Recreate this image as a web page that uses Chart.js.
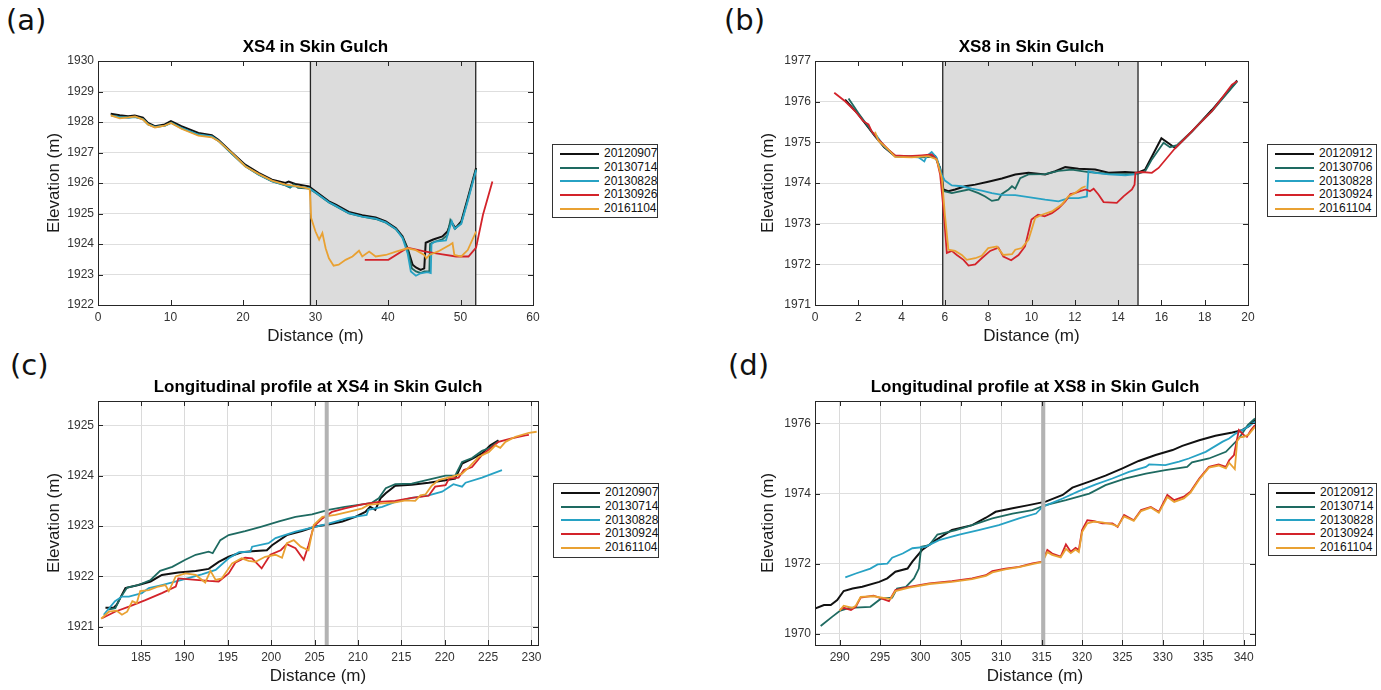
<!DOCTYPE html>
<html>
<head>
<meta charset="utf-8">
<script src="https://cdn.jsdelivr.net/npm/chart.js@4.4.1/dist/chart.umd.min.js"></script>
<style>
body { margin: 0; background: #fff; width: 1381px; height: 690px; overflow: hidden; position: relative; font-family: 'Liberation Sans', Arial, sans-serif; }
canvas { position: absolute; }
.tag { position: absolute; font-family: 'DejaVu Sans', sans-serif; font-size: 29px; line-height: 29px; color: #111; }
.legend { position: absolute; border: 1px solid #333; background: #fff; font-size: 12px; color: #111; box-sizing: border-box; padding-top: 2px; }
.legend div { height: 13.8px; line-height: 13.8px; white-space: nowrap; }
.legend span { display: inline-block; width: 39px; height: 2px; vertical-align: middle; margin: 0 5px 0 7px; }
</style>
</head>
<body>
<div class="tag" style="left:6px;top:6px">(a)</div>
<div class="tag" style="left:724px;top:6px">(b)</div>
<div class="tag" style="left:10px;top:351px">(c)</div>
<div class="tag" style="left:728px;top:351px">(d)</div>

<canvas id="chartA" width="548" height="350" style="left:0;top:0"></canvas>
<canvas id="chartB" width="560" height="350" style="left:700px;top:0"></canvas>
<canvas id="chartC" width="548" height="350" style="left:0;top:340px"></canvas>
<canvas id="chartD" width="560" height="350" style="left:700px;top:340px"></canvas>

<div class="legend" id="legA" style="left:552px;top:144px;width:106px;height:74px"></div>
<div class="legend" id="legB" style="left:1267px;top:144px;width:110px;height:73px"></div>
<div class="legend" id="legC" style="left:553px;top:483px;width:106px;height:75px"></div>
<div class="legend" id="legD" style="left:1268px;top:483px;width:109px;height:73px"></div>

<script>
const colors = ['#111111', '#1e6a61', '#27a2c4', '#d3232a', '#e9a132'];

const datesA = ['20120907', '20130714', '20130828', '20130926', '20161104'];
const datesB = ['20120912', '20130706', '20130828', '20130924', '20161104'];
const datesC = ['20120907', '20130714', '20130828', '20130924', '20161104'];
const datesD = ['20120912', '20130714', '20130828', '20130924', '20161104'];

const ticksAx = [0, 10, 20, 30, 40, 50, 60];
const ticksAy = [1922, 1923, 1924, 1925, 1926, 1927, 1928, 1929, 1930];
const ticksBx = [0, 2, 4, 6, 8, 10, 12, 14, 16, 18, 20];
const ticksBy = [1971, 1972, 1973, 1974, 1975, 1976, 1977];
const ticksCx = [185, 190, 195, 200, 205, 210, 215, 220, 225, 230];
const ticksCy = [1921, 1922, 1923, 1924, 1925];
const ticksDx = [290, 295, 300, 305, 310, 315, 320, 325, 330, 335, 340];
const ticksDy = [1970, 1972, 1974, 1976];

// XS4 cross section
const xs4_20120907 = [[1.75,1928.27],[3.0,1928.22],[4.15,1928.19],[5.08,1928.21],[6.2,1928.14],[6.9,1927.97],[7.85,1927.86],[9.2,1927.92],[10.06,1928.03],[11.5,1927.86],[13.85,1927.64],[15.7,1927.57],[16.6,1927.42],[18.5,1926.99],[20.3,1926.6],[22.15,1926.33],[24.0,1926.11],[25.85,1926.0],[26.3,1926.05],[27.2,1925.97],[29.1,1925.89],[30.0,1925.73],[31.85,1925.4],[32.8,1925.29],[34.6,1925.05],[36.45,1924.94],[38.3,1924.87],[39.7,1924.74],[41.1,1924.52],[42.0,1924.25],[42.7,1923.86],[43.4,1923.32],[43.85,1923.23],[44.5,1923.15],[45.0,1923.2],[45.2,1924.04],[46.15,1924.14],[47.5,1924.25],[48.2,1924.41],[48.7,1924.74],[49.3,1924.52],[50.1,1924.74],[51.0,1925.5],[52.15,1926.49]];
const xs4_20130714 = [[1.8,1928.22],[3.0,1928.17],[4.2,1928.15],[5.1,1928.17],[6.2,1928.1],[6.9,1927.93],[7.85,1927.83],[9.2,1927.88],[10.1,1927.98],[11.5,1927.8],[13.85,1927.58],[15.7,1927.52],[16.6,1927.38],[18.5,1926.95],[20.3,1926.55],[22.15,1926.27],[24.0,1926.05],[25.85,1925.92],[26.5,1925.85],[27.0,1925.95],[27.6,1925.84],[29.1,1925.82],[30.0,1925.68],[31.85,1925.36],[32.8,1925.24],[34.6,1925.0],[36.45,1924.9],[38.3,1924.82],[39.7,1924.7],[41.1,1924.48],[42.0,1924.22],[42.7,1923.82],[43.3,1923.2],[43.85,1923.1],[44.5,1923.05],[45.0,1923.1],[45.7,1923.1],[45.8,1924.0],[46.15,1924.05],[47.5,1924.15],[48.2,1924.3],[48.6,1924.78],[49.2,1924.5],[50.1,1924.68],[51.0,1925.45],[52.15,1926.45]];
const xs4_20130828 = [[1.9,1928.2],[3.0,1928.16],[4.2,1928.14],[5.1,1928.16],[6.2,1928.09],[6.9,1927.92],[7.85,1927.84],[9.2,1927.87],[10.1,1927.97],[11.5,1927.81],[13.85,1927.59],[15.7,1927.53],[16.6,1927.39],[18.5,1926.96],[20.3,1926.56],[22.15,1926.28],[24.0,1926.06],[25.85,1925.93],[26.5,1925.88],[27.2,1925.9],[29.1,1925.83],[30.0,1925.69],[31.85,1925.37],[32.8,1925.25],[34.6,1925.01],[36.45,1924.9],[38.3,1924.83],[39.7,1924.71],[41.1,1924.49],[42.0,1924.2],[42.7,1923.7],[43.15,1923.1],[43.85,1922.96],[44.5,1923.04],[45.45,1923.08],[45.9,1923.05],[46.0,1924.0],[46.5,1924.08],[48.0,1924.12],[48.6,1924.6],[48.8,1924.75],[49.2,1924.5],[50.1,1924.66],[51.0,1925.4],[52.15,1926.42]];
const xs4_20130926 = [[36.8,1923.48],[40.05,1923.48],[42.7,1923.88],[45.0,1923.76],[47.5,1923.66],[49.4,1923.59],[51.1,1923.59],[52.15,1923.88],[53.1,1924.96],[54.4,1926.05]];
const xs4_20161104 = [[1.75,1928.22],[3.0,1928.12],[4.2,1928.15],[5.1,1928.18],[6.2,1928.08],[6.9,1927.92],[7.85,1927.82],[9.2,1927.88],[10.06,1927.97],[11.5,1927.78],[13.85,1927.55],[15.7,1927.5],[16.6,1927.38],[18.5,1926.98],[20.3,1926.55],[22.15,1926.3],[24.0,1926.08],[25.85,1925.95],[26.5,1925.93],[27.2,1925.9],[28.5,1925.85],[29.2,1925.8],[29.3,1925.4],[29.4,1924.85],[30.0,1924.41],[30.5,1924.14],[30.95,1924.36],[31.4,1923.86],[31.85,1923.53],[32.5,1923.29],[33.2,1923.32],[34.15,1923.48],[35.1,1923.59],[36.0,1923.78],[36.45,1923.59],[37.4,1923.75],[38.3,1923.59],[39.7,1923.64],[41.1,1923.75],[42.7,1923.86],[43.85,1923.8],[45.0,1923.64],[45.3,1923.53],[45.7,1923.64],[47.1,1923.78],[48.5,1923.97],[48.9,1924.03],[49.15,1923.64],[50.1,1923.59],[51.0,1923.8],[52.15,1924.41]];

// XS8 cross section
const xs8_20120912 = [[1.39,1976.05],[2.0,1975.69],[2.77,1975.15],[3.2,1974.88],[3.7,1974.66],[4.93,1974.64],[5.55,1974.66],[5.78,1974.37],[5.93,1973.84],[6.16,1973.8],[6.47,1973.84],[6.93,1973.92],[7.4,1973.96],[8.0,1974.03],[8.63,1974.11],[9.25,1974.21],[9.86,1974.25],[10.63,1974.21],[11.1,1974.29],[11.56,1974.39],[12.17,1974.35],[12.94,1974.33],[13.56,1974.25],[14.33,1974.27],[14.87,1974.25],[15.25,1974.33],[16.0,1975.1],[16.64,1974.86],[17.4,1975.26],[18.34,1975.8],[19.5,1976.52]];
const xs8_20130706 = [[1.55,1976.08],[2.0,1975.72],[2.77,1975.16],[3.2,1974.9],[3.7,1974.67],[4.93,1974.63],[5.55,1974.64],[5.78,1974.35],[5.93,1973.8],[6.32,1973.75],[7.09,1973.84],[7.55,1973.75],[7.86,1973.67],[8.17,1973.56],[8.47,1973.59],[8.63,1973.73],[8.94,1973.84],[9.1,1973.92],[9.25,1973.86],[9.48,1974.12],[9.86,1974.21],[10.63,1974.22],[11.25,1974.3],[11.86,1974.33],[12.63,1974.27],[13.71,1974.22],[14.87,1974.22],[15.25,1974.29],[15.56,1974.58],[16.1,1974.99],[16.4,1974.88],[16.72,1974.93],[17.4,1975.27],[18.34,1975.77],[19.5,1976.5]];
const xs8_20130828 = [[2.8,1975.2],[3.2,1974.9],[3.7,1974.66],[4.78,1974.63],[5.05,1974.53],[5.16,1974.66],[5.39,1974.76],[5.62,1974.62],[5.86,1974.2],[6.0,1974.06],[6.32,1973.94],[6.78,1973.92],[7.24,1973.86],[7.7,1973.81],[8.17,1973.75],[8.63,1973.71],[9.25,1973.7],[9.86,1973.65],[10.63,1973.59],[11.25,1973.55],[11.71,1973.63],[12.17,1973.63],[12.56,1973.67],[12.63,1974.29],[12.94,1974.25],[13.56,1974.21],[14.33,1974.19],[14.87,1974.22]];
const xs8_20130924 = [[0.89,1976.22],[1.39,1976.01],[1.85,1975.77],[2.23,1975.52],[2.47,1975.44],[2.62,1975.27],[2.93,1975.07],[3.39,1974.82],[3.7,1974.68],[4.31,1974.66],[4.93,1974.68],[5.39,1974.7],[5.62,1974.58],[5.78,1974.21],[5.93,1973.38],[6.09,1972.28],[6.32,1972.33],[6.55,1972.23],[6.86,1972.11],[7.09,1971.97],[7.4,1972.0],[7.7,1972.15],[8.09,1972.33],[8.47,1972.41],[8.7,1972.19],[9.06,1972.1],[9.4,1972.23],[9.7,1972.44],[10.0,1973.1],[10.3,1973.22],[10.6,1973.18],[10.94,1973.26],[11.25,1973.38],[11.56,1973.55],[11.8,1973.73],[12.0,1973.75],[12.25,1973.8],[12.5,1973.84],[12.7,1973.8],[12.87,1973.86],[13.1,1973.71],[13.33,1973.53],[13.94,1973.51],[14.25,1973.67],[14.64,1973.84],[14.76,1973.96],[14.8,1974.25],[15.1,1974.27],[15.56,1974.25],[15.87,1974.37],[16.64,1974.86],[17.4,1975.27],[18.34,1975.77],[19.26,1976.42],[19.5,1976.5]];
const xs8_20161104 = [[2.77,1975.26],[2.93,1975.04],[3.39,1974.82],[3.7,1974.64],[4.47,1974.63],[5.24,1974.66],[5.62,1974.58],[5.86,1974.12],[6.0,1973.22],[6.16,1972.36],[6.47,1972.33],[6.78,1972.23],[7.01,1972.11],[7.4,1972.15],[7.7,1972.21],[8.0,1972.4],[8.4,1972.44],[8.7,1972.23],[9.1,1972.25],[9.25,1972.36],[9.55,1972.4],[9.86,1972.6],[10.17,1973.14],[10.48,1973.22],[10.94,1973.3],[11.4,1973.47],[11.7,1973.67],[12.0,1973.75],[12.33,1973.88],[12.5,1973.92]];

// Longitudinal profile at XS4
const lp4_20120907 = [[180.9,1921.38],[181.85,1921.38],[182.2,1921.44],[183.2,1921.77],[184.7,1921.83],[186.1,1921.9],[187.4,1922.03],[189.3,1922.08],[191.3,1922.11],[192.8,1922.15],[193.95,1922.29],[195.1,1922.39],[196.6,1922.48],[197.8,1922.5],[199.5,1922.52],[200.1,1922.62],[201.8,1922.82],[203.55,1922.9],[205.1,1922.99],[206.6,1923.03],[208.2,1923.09],[209.7,1923.18],[210.85,1923.28],[211.4,1923.38],[212.0,1923.32],[212.6,1923.55],[213.2,1923.65],[214.3,1923.8],[216.2,1923.82],[218.15,1923.86],[220.1,1923.91],[221.2,1923.94],[222.0,1924.24],[223.15,1924.33],[224.3,1924.44],[225.26,1924.6],[226.2,1924.7]];
const lp4_20130714 = [[181.2,1921.34],[182.04,1921.37],[182.6,1921.57],[183.4,1921.78],[184.7,1921.83],[186.1,1921.93],[187.2,1922.11],[188.6,1922.19],[190.1,1922.33],[191.3,1922.43],[192.8,1922.49],[193.26,1922.46],[194.14,1922.72],[195.1,1922.82],[197.0,1922.9],[198.9,1922.99],[200.9,1923.09],[202.8,1923.18],[204.7,1923.23],[206.6,1923.32],[208.5,1923.38],[210.5,1923.43],[211.6,1923.46],[212.4,1923.55],[213.2,1923.75],[214.3,1923.83],[216.2,1923.84],[218.15,1923.92],[220.1,1924.0],[221.2,1924.0],[222.0,1924.27],[223.15,1924.35],[224.3,1924.49],[225.07,1924.54],[226.2,1924.68]];
const lp4_20130828 = [[180.7,1921.24],[182.0,1921.51],[182.8,1921.6],[183.6,1921.6],[185.1,1921.67],[185.9,1921.77],[187.4,1921.83],[189.7,1921.93],[192.0,1922.04],[193.6,1922.13],[195.1,1922.36],[196.3,1922.48],[197.6,1922.49],[197.8,1922.59],[199.7,1922.66],[200.5,1922.76],[202.8,1922.89],[204.7,1922.97],[206.6,1923.05],[208.9,1923.16],[211.0,1923.22],[211.2,1923.32],[212.8,1923.38],[214.3,1923.48],[216.2,1923.56],[218.15,1923.61],[219.7,1923.68],[221.0,1923.83],[222.0,1923.78],[222.4,1923.86],[224.3,1923.96],[226.6,1924.11]];
const lp4_20130924 = [[180.5,1921.17],[182.0,1921.3],[183.6,1921.4],[185.5,1921.53],[187.4,1921.67],[189.0,1921.8],[189.3,1921.96],[191.3,1921.93],[192.8,1921.91],[193.95,1921.9],[195.1,1922.06],[195.9,1922.28],[197.0,1922.37],[197.8,1922.36],[198.9,1922.16],[199.9,1922.43],[201.1,1922.52],[201.8,1922.64],[202.8,1922.56],[203.75,1922.33],[204.3,1922.62],[204.9,1922.99],[205.9,1923.15],[207.0,1923.28],[208.5,1923.35],[210.5,1923.43],[212.4,1923.48],[214.3,1923.5],[216.2,1923.56],[218.15,1923.6],[218.9,1923.78],[220.1,1923.81],[220.5,1923.94],[221.6,1923.96],[222.2,1924.11],[223.15,1924.17],[224.3,1924.41],[225.26,1924.54],[226.2,1924.67],[227.7,1924.74],[229.3,1924.8],[229.7,1924.81]];
const lp4_20161104 = [[180.4,1921.16],[181.3,1921.3],[182.2,1921.32],[182.8,1921.24],[183.4,1921.3],[184.0,1921.51],[184.5,1921.47],[184.9,1921.71],[185.9,1921.73],[187.0,1921.8],[187.8,1921.83],[188.2,1921.71],[189.0,1922.0],[190.1,1922.06],[191.3,1922.03],[192.4,1921.88],[193.0,1922.11],[193.6,1921.93],[194.3,1921.96],[195.5,1922.26],[196.6,1922.36],[197.4,1922.31],[198.2,1922.29],[199.3,1922.39],[200.5,1922.43],[201.25,1922.37],[201.8,1922.66],[202.6,1922.72],[203.4,1922.59],[204.3,1922.52],[204.9,1923.02],[205.9,1923.18],[207.4,1923.22],[208.9,1923.28],[210.5,1923.35],[211.2,1923.42],[212.8,1923.45],[214.3,1923.47],[215.5,1923.51],[216.6,1923.5],[217.2,1923.61],[217.8,1923.63],[218.5,1923.8],[219.3,1923.91],[220.85,1923.98],[222.0,1924.04],[222.8,1924.17],[223.9,1924.37],[225.1,1924.47],[225.85,1924.6],[226.4,1924.55],[227.0,1924.67],[228.15,1924.77],[229.7,1924.85],[230.6,1924.87]];

// Longitudinal profile at XS8
const lp8_20120912 = [[286.95,1970.72],[288.06,1970.82],[288.9,1970.82],[289.7,1970.96],[290.5,1971.22],[291.6,1971.29],[292.8,1971.34],[294.9,1971.48],[295.9,1971.58],[296.9,1971.77],[298.4,1971.86],[299.0,1972.06],[300.2,1972.39],[301.9,1972.67],[303.9,1972.96],[306.4,1973.1],[308.1,1973.31],[309.3,1973.48],[311.4,1973.58],[313.4,1973.67],[315.5,1973.77],[317.6,1973.96],[318.8,1974.17],[320.9,1974.34],[322.9,1974.51],[325.0,1974.72],[327.0,1974.93],[329.1,1975.1],[331.2,1975.24],[332.4,1975.36],[334.5,1975.52],[336.5,1975.65],[338.6,1975.74],[339.8,1975.81],[340.7,1975.93],[341.4,1976.1]];
const lp8_20130714 = [[287.65,1970.22],[289.1,1970.49],[290.0,1970.65],[291.2,1970.74],[293.8,1970.77],[295.1,1971.0],[296.5,1971.03],[297.1,1971.29],[298.2,1971.34],[299.2,1971.58],[299.8,1971.86],[300.1,1972.48],[301.1,1972.53],[302.1,1972.83],[304.4,1972.96],[306.4,1973.1],[308.9,1973.29],[311.4,1973.43],[313.85,1973.53],[315.5,1973.67],[318.0,1973.81],[320.9,1974.0],[322.9,1974.24],[325.4,1974.43],[327.9,1974.57],[330.3,1974.67],[333.0,1974.76],[333.6,1974.89],[335.7,1975.0],[337.8,1975.19],[339.4,1975.57],[340.5,1975.95],[341.4,1976.14]];
const lp8_20130828 = [[290.7,1971.61],[292.0,1971.72],[293.8,1971.86],[294.7,1971.98],[295.9,1972.0],[296.5,1972.17],[297.8,1972.29],[299.0,1972.44],[300.6,1972.48],[302.3,1972.67],[304.8,1972.83],[307.2,1972.96],[309.7,1973.1],[312.2,1973.29],[314.3,1973.43],[315.1,1973.62],[317.6,1973.86],[319.6,1974.07],[321.7,1974.26],[323.75,1974.43],[325.8,1974.62],[327.9,1974.76],[328.3,1974.83],[330.3,1974.81],[332.0,1974.91],[333.2,1975.0],[335.3,1975.19],[337.4,1975.48],[338.2,1975.57],[339.0,1975.71],[340.25,1975.86],[341.4,1976.05]];
const lp8_20130924 = [[290.0,1970.68],[290.5,1970.74],[291.4,1970.68],[292.0,1970.77],[292.6,1971.03],[294.2,1971.09],[296.1,1970.93],[296.9,1971.25],[298.6,1971.34],[301.1,1971.44],[303.9,1971.5],[306.4,1971.58],[308.1,1971.67],[308.9,1971.79],[310.5,1971.86],[312.2,1971.91],[313.85,1972.01],[315.1,1972.06],[315.7,1972.39],[316.3,1972.29],[317.35,1972.2],[318.0,1972.55],[318.6,1972.34],[319.2,1972.45],[319.6,1972.39],[320.0,1972.96],[320.65,1973.24],[321.5,1973.21],[322.5,1973.15],[323.75,1973.15],[324.4,1973.05],[325.2,1973.39],[326.4,1973.24],[327.3,1973.53],[328.5,1973.62],[329.5,1973.48],[330.55,1973.96],[331.4,1973.81],[332.6,1973.91],[333.4,1974.05],[334.5,1974.43],[335.7,1974.76],[336.9,1974.83],[337.8,1974.76],[338.2,1974.95],[338.8,1975.1],[339.2,1975.57],[339.4,1975.81],[340.0,1975.67],[340.4,1975.62],[340.9,1975.81],[341.4,1975.95]];
const lp8_20161104 = [[290.0,1970.66],[290.5,1970.8],[291.6,1970.74],[292.0,1970.8],[292.6,1971.05],[294.2,1971.07],[296.3,1970.99],[296.9,1971.22],[298.6,1971.32],[301.1,1971.42],[303.9,1971.48],[306.4,1971.56],[308.1,1971.65],[308.9,1971.75],[310.5,1971.84],[312.2,1971.9],[313.85,1971.99],[315.1,1972.05],[315.7,1972.33],[316.3,1972.25],[317.35,1972.18],[318.0,1972.42],[318.6,1972.3],[319.2,1972.4],[319.6,1972.33],[320.0,1972.9],[320.65,1973.15],[321.5,1973.2],[322.5,1973.18],[323.75,1973.12],[324.4,1973.06],[325.2,1973.35],[326.4,1973.22],[327.3,1973.5],[328.5,1973.6],[329.5,1973.45],[330.55,1973.9],[331.4,1973.76],[332.6,1973.86],[333.4,1974.02],[334.5,1974.4],[335.7,1974.74],[336.9,1974.8],[337.8,1974.72],[338.2,1974.88],[338.9,1974.7],[339.2,1975.5],[339.5,1975.6],[340.0,1975.62],[340.6,1975.68],[341.4,1975.9]];

// draws box, inward ticks, shaded section and the grey marker bar
const framePlugin = {
    id: 'frame',
    beforeDatasetsDraw(chart, args, opts) {
        if (!opts.shade) return;
        const { ctx, chartArea: a, scales: { x } } = chart;
        const x0 = x.getPixelForValue(opts.shade[0]);
        const x1 = x.getPixelForValue(opts.shade[1]);
        ctx.save();
        ctx.fillStyle = '#dcdcdc';
        ctx.fillRect(x0, a.top, x1 - x0, a.bottom - a.top);
        ctx.strokeStyle = '#262626';
        ctx.lineWidth = 1.3;
        ctx.beginPath();
        ctx.moveTo(x0, a.top); ctx.lineTo(x0, a.bottom);
        ctx.moveTo(x1, a.top); ctx.lineTo(x1, a.bottom);
        ctx.stroke();
        ctx.restore();
    },
    afterDatasetsDraw(chart, args, opts) {
        const { ctx, chartArea: a, scales: { x, y } } = chart;
        ctx.save();
        if (opts.bar) {
            const xp = x.getPixelForValue(opts.bar);
            ctx.fillStyle = '#b3b3b3';
            ctx.fillRect(xp - 2, a.top, 4, a.bottom - a.top);
        }
        ctx.strokeStyle = '#262626';
        ctx.lineWidth = 1;
        ctx.beginPath();
        x.ticks.forEach(t => {
            const p = Math.round(x.getPixelForValue(t.value)) + 0.5;
            ctx.moveTo(p, a.bottom); ctx.lineTo(p, a.bottom - 5);
            ctx.moveTo(p, a.top); ctx.lineTo(p, a.top + 5);
        });
        y.ticks.forEach(t => {
            const p = Math.round(y.getPixelForValue(t.value)) + 0.5;
            ctx.moveTo(a.left, p); ctx.lineTo(a.left + 5, p);
            ctx.moveTo(a.right, p); ctx.lineTo(a.right - 5, p);
        });
        ctx.stroke();
        ctx.strokeRect(Math.round(a.left) + 0.5, Math.round(a.top) + 0.5,
            Math.round(a.right - a.left), Math.round(a.bottom - a.top));
        ctx.restore();
    }
};

function makeChart(id, p) {
    const datasets = p.series.map((s, i) => ({
        label: p.dates[i],
        data: s.map(([x, y]) => ({ x, y })),
        borderColor: colors[i],
        borderWidth: i === 0 ? 2 : 1.8,
        pointRadius: 0,
        tension: 0,
        order: 4 - i
    }));
    const tickFont = { family: 'Liberation Sans', size: 12 };
    const titleFont = { family: 'Liberation Sans', size: 17 };
    return new Chart(document.getElementById(id), {
        type: 'line',
        data: { datasets },
        plugins: [framePlugin],
        options: {
            responsive: false,
            animation: false,
            devicePixelRatio: 1,
            layout: { padding: { left: 0, right: p.padRight, top: 0, bottom: 0 } },
            plugins: {
                legend: { display: false },
                tooltip: { enabled: false },
                title: {
                    display: true,
                    text: p.title,
                    fullSize: false,
                    color: '#000',
                    font: { family: 'Liberation Sans', size: 17, weight: 'bold' },
                    padding: { top: 37, bottom: 3.6 }
                },
                frame: { shade: p.shade, bar: p.bar }
            },
            scales: {
                x: {
                    type: 'linear',
                    min: p.xMin, max: p.xMax,
                    afterFit: s => { s.height = 45; },
                    afterBuildTicks: s => { s.ticks = p.xTicks.map(v => ({ value: v })); },
                    grid: { display: p.xGrid, color: '#dadada', drawTicks: false },
                    border: { display: false },
                    ticks: { font: tickFont, color: '#333', padding: 5, maxRotation: 0, callback: v => String(v) },
                    title: { display: true, text: 'Distance (m)', font: titleFont, color: '#1a1a1a', padding: { top: 0, bottom: 3 } }
                },
                y: {
                    type: 'linear',
                    min: p.yMin, max: p.yMax,
                    afterFit: s => { s.width = p.yWidth; },
                    afterBuildTicks: s => { s.ticks = p.yTicks.map(v => ({ value: v })); },
                    grid: { color: '#dedede', drawTicks: false },
                    border: { display: false },
                    ticks: { font: tickFont, color: '#333', padding: 4, callback: v => String(v) },
                    title: { display: true, text: 'Elevation (m)', font: titleFont, color: '#1a1a1a', padding: { top: p.yTitlePad, bottom: 0 } }
                }
            }
        }
    });
}

function makeLegend(id, dates) {
    document.getElementById(id).innerHTML = dates.map((d, i) =>
        '<div><span style="background:' + colors[i] + '"></span>' + d + '</div>').join('');
}

makeChart('chartA', {
    title: 'XS4 in Skin Gulch', dates: datesA,
    series: [xs4_20120907, xs4_20130714, xs4_20130828, xs4_20130926, xs4_20161104],
    xMin: 0, xMax: 60, yMin: 1922, yMax: 1930, xTicks: ticksAx, yTicks: ticksAy,
    yWidth: 98, yTitlePad: 44, padRight: 15, xGrid: false, shade: [29.3, 52.1]
});
makeChart('chartB', {
    title: 'XS8 in Skin Gulch', dates: datesB,
    series: [xs8_20120912, xs8_20130706, xs8_20130828, xs8_20130924, xs8_20161104],
    xMin: 0, xMax: 20, yMin: 1971, yMax: 1977, xTicks: ticksBx, yTicks: ticksBy,
    yWidth: 115, yTitlePad: 58, padRight: 12, xGrid: false, shade: [5.9, 14.92]
});
makeChart('chartC', {
    title: 'Longitudinal profile at XS4 in Skin Gulch', dates: datesC,
    series: [lp4_20120907, lp4_20130714, lp4_20130828, lp4_20130924, lp4_20161104],
    xMin: 180.04, xMax: 230.75, yMin: 1920.64, yMax: 1925.48, xTicks: ticksCx, yTicks: ticksCy,
    yWidth: 98, yTitlePad: 44, padRight: 10, xGrid: true, bar: 206.4
});
makeChart('chartD', {
    title: 'Longitudinal profile at XS8 in Skin Gulch', dates: datesD,
    series: [lp8_20120912, lp8_20130714, lp8_20130828, lp8_20130924, lp8_20161104],
    xMin: 286.95, xMax: 341.4, yMin: 1969.68, yMax: 1976.64, xTicks: ticksDx, yTicks: ticksDy,
    yWidth: 115, yTitlePad: 58, padRight: 5, xGrid: true, bar: 315.2
});

makeLegend('legA', datesA);
makeLegend('legB', datesB);
makeLegend('legC', datesC);
makeLegend('legD', datesD);
</script>
</body>
</html>
